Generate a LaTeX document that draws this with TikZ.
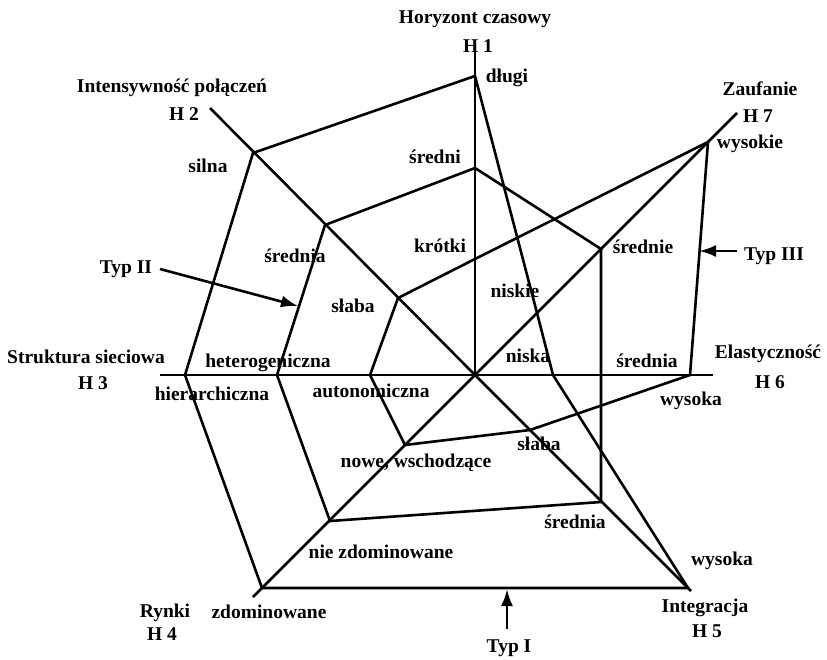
\documentclass[tikz,border=0pt]{standalone}
\usepackage{fontspec}
\setmainfont{Liberation Serif}
\usetikzlibrary{arrows.meta}
\begin{document}
\begin{tikzpicture}[x=1pt,y=-1pt,
  ax/.style={line width=2.6pt},
  poly/.style={line width=2.6pt, line join=miter},
  lbl/.style={font=\fontsize{19.5}{22}\selectfont\bfseries, anchor=base, inner sep=0pt},
  arr/.style={line width=2.6pt, -{Latex[length=17pt,width=12pt]}}]
\useasboundingbox (0,0) rectangle (827,659);
% centre and axis ends
\coordinate (O) at (475,375);
\coordinate (a1) at (475,52);
\coordinate (a2) at (210,108);
\coordinate (a3) at (160,375);
\coordinate (a4) at (253,597);
\coordinate (a5) at (691,591);
\coordinate (a6) at (713,375);
\coordinate (a7) at (737,113);
% Typ I
\coordinate (p1) at (475,76);
\coordinate (p2) at (253,153);
\coordinate (p3) at (185,375);
\coordinate (p4) at (262,588);
\coordinate (p5) at (688,588);
\coordinate (p6) at (553,375);
\coordinate (p7) at (537,313);
% Typ II
\coordinate (q1) at (475,168);
\coordinate (q2) at (325,225);
\coordinate (q3) at (277,375);
\coordinate (q4) at (330,521);
\coordinate (q5) at (601,502);
\coordinate (q6) at (601,375);
\coordinate (q7) at (601,249);
% Typ III
\coordinate (r1) at (475,259);
\coordinate (r2) at (398,298);
\coordinate (r3) at (370,375);
\coordinate (r4) at (405,445);
\coordinate (r5) at (530,430);
\coordinate (r6) at (690,375);
\coordinate (r7) at (708,142);
% axes
\foreach \i in {1,...,7} \draw[ax] (O) -- (a\i);
% polygons
\draw[poly] (p1) -- (p2) -- (p3) -- (p4) -- (p5) -- (p6) -- (p7) -- cycle;
\draw[poly] (q1) -- (q2) -- (q3) -- (q4) -- (q5) -- (q6) -- (q7) -- cycle;
\draw[poly] (r1) -- (r2) -- (r3) -- (r4) -- (r5) -- (r6) -- (r7) -- cycle;
% axis titles
\node[lbl] (h1t) at (475,23) {Horyzont czasowy};
\node[lbl] (h1) at (478,52) {H 1};
\node[lbl] (h2t) at (172,92) {Intensywność połączeń};
\node[lbl] (h2) at (184,120) {H 2};
\node[lbl] (h3t) at (86,363) {Struktura sieciowa};
\node[lbl] (h3) at (93,389) {H 3};
\node[lbl] (h4t) at (165,617) {Rynki};
\node[lbl] (h4) at (162,640) {H 4};
\node[lbl] (h5t) at (705,612) {Integracja};
\node[lbl] (h5) at (707,637) {H 5};
\node[lbl] (h6t) at (768,358) {Elastyczność};
\node[lbl] (h6) at (770,388) {H 6};
\node[lbl] (h7t) at (760,95) {Zaufanie};
\node[lbl] (h7) at (758,122) {H 7};
% value labels
\node[lbl] (v11) at (507,82) {długi};
\node[lbl] (v12) at (435,163) {średni};
\node[lbl] (v13) at (440,252) {krótki};
\node[lbl] (v21) at (208,172) {silna};
\node[lbl] (v22) at (295,262) {średnia};
\node[lbl] (v23) at (353,312) {słaba};
\node[lbl] (v31) at (212,400) {hierarchiczna};
\node[lbl] (v32) at (268,367) {heterogeniczna};
\node[lbl] (v33) at (371,397) {autonomiczna};
\node[lbl] (v41) at (269,618) {zdominowane};
\node[lbl] (v42) at (381,558) {nie zdominowane};
\node[lbl] (v43) at (416,467) {nowe, wschodzące};
\node[lbl] (v51) at (722,565) {wysoka};
\node[lbl] (v52) at (575,528) {średnia};
\node[lbl] (v53) at (539,450) {słaba};
\node[lbl] (v61) at (528,362) {niska};
\node[lbl] (v62) at (647,367) {średnia};
\node[lbl] (v63) at (691,405) {wysoka};
\node[lbl] (v71) at (515,297) {niskie};
\node[lbl] (v72) at (643,253) {średnie};
\node[lbl] (v73) at (750,148) {wysokie};
% type labels and arrows
\node[lbl] (t1) at (509,652) {Typ I};
\node[lbl] (t2) at (126,273) {Typ II};
\node[lbl] (t3) at (774,260) {Typ III};
\coordinate (t1s) at (507,629);
\coordinate (t1e) at (507,589);
\coordinate (t2s) at (160,269);
\coordinate (t2e) at (298,306);
\coordinate (t3s) at (737,251);
\coordinate (t3e) at (699,251);
\draw[arr] (t1s) -- (t1e);
\draw[arr] (t2s) -- (t2e);
\draw[arr] (t3s) -- (t3e);
\end{tikzpicture}
\end{document}
